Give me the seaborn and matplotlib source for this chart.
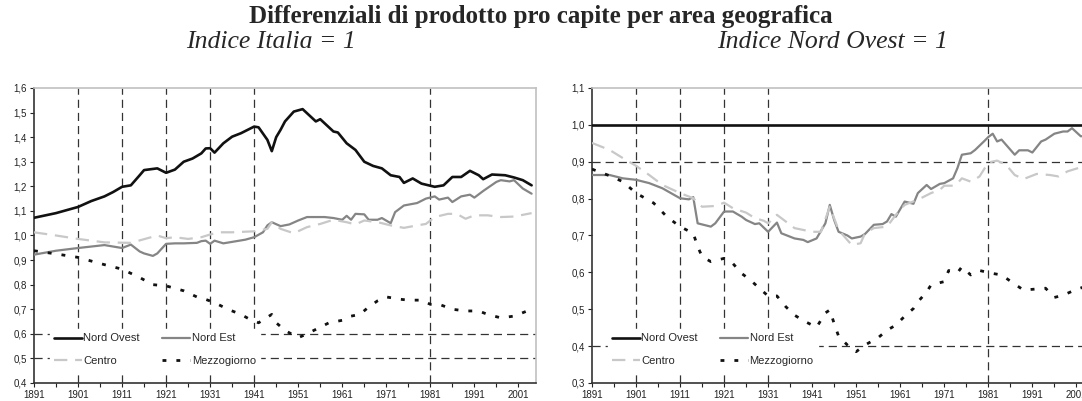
import seaborn as sns
import matplotlib.pyplot as plt
from matplotlib.ticker import FuncFormatter, MultipleLocator

# ---- data ----
# left panel: Italia = 1
noYearsL = [1891, 1896, 1901, 1904, 1907, 1909, 1911, 1913, 1915, 1916, 1919, 1921, 1923, 1925, 1927, 1929,
            1930, 1931, 1932, 1934, 1936, 1938, 1941, 1942, 1944, 1945, 1946, 1947, 1948, 1950, 1952, 1955,
            1956, 1959, 1960, 1962, 1964, 1966, 1968, 1970, 1972, 1974, 1975, 1977, 1979, 1982, 1984, 1986,
            1988, 1990, 1992, 1993, 1995, 1998, 2000, 2002, 2004]
noValsL = [1.072, 1.091, 1.116, 1.14, 1.159, 1.177, 1.198, 1.204, 1.245, 1.266, 1.273, 1.255, 1.268, 1.30, 1.313, 1.334,
           1.354, 1.355, 1.337, 1.375, 1.402, 1.416, 1.443, 1.44, 1.389, 1.343, 1.40, 1.43, 1.464, 1.504, 1.514, 1.464,
           1.473, 1.423, 1.419, 1.375, 1.348, 1.30, 1.283, 1.273, 1.245, 1.238, 1.214, 1.232, 1.211, 1.198, 1.204, 1.238,
           1.238, 1.263, 1.245, 1.229, 1.248, 1.245, 1.236, 1.225, 1.204]

neYearsL = [1891, 1896, 1901, 1907, 1911, 1913, 1915, 1916, 1918, 1919, 1921, 1923, 1925, 1928, 1929, 1930, 1931,
            1932, 1934, 1937, 1939, 1941, 1943, 1944, 1945, 1947, 1949, 1951, 1953, 1957, 1959, 1961, 1962, 1963,
            1964, 1966, 1967, 1969, 1970, 1972, 1973, 1975, 1978, 1980, 1982, 1983, 1985, 1986, 1988, 1990, 1991,
            1993, 1996, 1997, 1999, 2000, 2002, 2004]
neValsL = [0.922, 0.938, 0.949, 0.961, 0.949, 0.963, 0.935, 0.927, 0.917, 0.927, 0.966, 0.968, 0.968, 0.97, 0.977, 0.979, 0.966,
           0.979, 0.968, 0.977, 0.983, 0.993, 1.013, 1.041, 1.054, 1.038, 1.045, 1.061, 1.075, 1.075, 1.071, 1.064, 1.08, 1.064,
           1.088, 1.086, 1.064, 1.064, 1.071, 1.05, 1.095, 1.122, 1.132, 1.15, 1.159, 1.146, 1.154, 1.136, 1.159, 1.166, 1.154,
           1.181, 1.218, 1.225, 1.22, 1.225, 1.191, 1.17]

ceYearsL = [1891, 1896, 1901, 1907, 1913, 1919, 1921, 1923, 1926, 1929, 1931, 1933, 1936, 1941, 1944, 1945, 1947,
            1950, 1953, 1956, 1959, 1962, 1964, 1966, 1969, 1970, 1972, 1975, 1978, 1980, 1982, 1985, 1987, 1989,
            1991, 1994, 1997, 2000, 2004]
ceValsL = [1.013, 1.0, 0.986, 0.972, 0.970, 1.0, 0.989, 0.993, 0.986, 0.993, 1.004, 1.013, 1.013, 1.017, 1.027, 1.054, 1.027,
           1.009, 1.034, 1.047, 1.064, 1.054, 1.045, 1.061, 1.054, 1.05, 1.041, 1.031, 1.041, 1.047, 1.075, 1.088, 1.088, 1.068,
           1.082, 1.082, 1.075, 1.077, 1.091]

meYearsL = [1891, 1896, 1901, 1906, 1911, 1915, 1918, 1921, 1925, 1928, 1930, 1932, 1935, 1938, 1940, 1942, 1945,
            1946, 1948, 1951, 1953, 1955, 1958, 1961, 1963, 1965, 1967, 1969, 1971, 1974, 1976, 1979, 1981, 1983,
            1986, 1989, 1992, 1994, 1997, 2000, 2003]
meValsL = [0.938, 0.925, 0.911, 0.886, 0.863, 0.829, 0.80, 0.795, 0.775, 0.75, 0.74, 0.727, 0.70, 0.679, 0.659, 0.645, 0.679,
           0.645, 0.614, 0.584, 0.60, 0.618, 0.645, 0.655, 0.672, 0.679, 0.709, 0.734, 0.75, 0.741, 0.737, 0.737, 0.72, 0.72,
           0.70, 0.693, 0.693, 0.679, 0.665, 0.672, 0.693]

# right panel: Nord Ovest = 1
noYearsR = [1891, 2004]
noValsR = [1.0, 1.0]

neYearsR = [1891, 1895, 1898, 1901, 1904, 1907, 1911, 1913, 1914, 1915, 1918, 1919, 1921, 1923, 1925, 1926, 1928,
            1929, 1931, 1933, 1934, 1937, 1939, 1940, 1942, 1944, 1945, 1946, 1947, 1949, 1950, 1952, 1953, 1955,
            1957, 1958, 1959, 1960, 1962, 1964, 1965, 1967, 1968, 1970, 1971, 1973, 1974, 1975, 1977, 1978, 1980,
            1981, 1982, 1983, 1984, 1987, 1988, 1990, 1991, 1993, 1994, 1996, 1998, 1999, 2000, 2002, 2003, 2004]
neValsR = [0.864, 0.864, 0.855, 0.851, 0.842, 0.828, 0.801, 0.798, 0.804, 0.733, 0.724, 0.733, 0.765, 0.765, 0.751, 0.742, 0.731,
           0.733, 0.71, 0.735, 0.706, 0.692, 0.688, 0.682, 0.692, 0.733, 0.783, 0.742, 0.71, 0.70, 0.692, 0.697, 0.704, 0.729,
           0.731, 0.738, 0.758, 0.751, 0.792, 0.786, 0.815, 0.837, 0.826, 0.84, 0.842, 0.855, 0.883, 0.919, 0.923, 0.932, 0.955,
           0.967, 0.976, 0.955, 0.96, 0.919, 0.931, 0.931, 0.925, 0.955, 0.96, 0.976, 0.982, 0.982, 0.991, 0.969, 0.97, 0.972]

ceYearsR = [1891, 1895, 1898, 1901, 1904, 1907, 1911, 1914, 1916, 1919, 1921, 1923, 1926, 1928, 1930, 1931, 1933,
            1937, 1941, 1943, 1945, 1947, 1950, 1952, 1953, 1955, 1958, 1960, 1962, 1965, 1968, 1970, 1971, 1973,
            1974, 1975, 1977, 1979, 1981, 1983, 1985, 1987, 1989, 1992, 1995, 1997, 1999, 2002, 2004]
ceValsR = [0.951, 0.932, 0.91, 0.889, 0.864, 0.837, 0.815, 0.801, 0.778, 0.78, 0.789, 0.774, 0.762, 0.747, 0.74, 0.733, 0.756,
           0.72, 0.71, 0.71, 0.778, 0.715, 0.674, 0.679, 0.706, 0.72, 0.724, 0.756, 0.783, 0.797, 0.815, 0.824, 0.835, 0.835,
           0.842, 0.855, 0.846, 0.86, 0.898, 0.903, 0.892, 0.864, 0.853, 0.867, 0.864, 0.86, 0.874, 0.885, 0.89]

meYearsR = [1891, 1895, 1898, 1901, 1905, 1908, 1911, 1914, 1915, 1916, 1918, 1921, 1923, 1925, 1927, 1929, 1931,
            1933, 1935, 1937, 1939, 1942, 1944, 1945, 1946, 1947, 1949, 1951, 1953, 1956, 1958, 1960, 1962, 1964,
            1965, 1967, 1968, 1971, 1972, 1974, 1975, 1977, 1979, 1982, 1984, 1987, 1989, 1991, 1994, 1996, 1998,
            2001, 2004]
meValsR = [0.88, 0.862, 0.846, 0.815, 0.788, 0.751, 0.724, 0.706, 0.67, 0.643, 0.629, 0.638, 0.624, 0.597, 0.579, 0.557, 0.536,
           0.536, 0.507, 0.484, 0.469, 0.451, 0.49, 0.498, 0.461, 0.427, 0.403, 0.385, 0.403, 0.423, 0.443, 0.457, 0.481, 0.502,
           0.52, 0.547, 0.566, 0.575, 0.605, 0.599, 0.615, 0.593, 0.605, 0.597, 0.593, 0.568, 0.552, 0.554, 0.557, 0.532, 0.538,
           0.554, 0.565]

seriesNames = ['Nord Ovest', 'Nord Est', 'Centro', 'Mezzogiorno']

# ---- style ----
sns.set_style('white')
plt.rcParams['font.family'] = ['Liberation Sans', 'DejaVu Sans']

styles = {
    'Nord Ovest': dict(color='#111111', lw=1.9, linestyle='-'),
    'Nord Est': dict(color='#858585', lw=1.6, linestyle='-'),
    'Centro': dict(color='#c8c8c8', lw=1.6, linestyle=(0, (6, 3.5))),
    'Mezzogiorno': dict(color='#111111', lw=2.0, linestyle=(0, (1.4, 3.6))),
}
gridStyle = dict(color='#333333', lw=0.9, linestyle=(0, (6.5, 4)), zorder=1)

fig = plt.figure(figsize=(10.82, 4.01), dpi=100)
axL = fig.add_axes([0.0314, 0.0449, 0.464, 0.7357])
axR = fig.add_axes([0.5471, 0.0449, 0.464, 0.7357])

panels = [
    (axL, [(noYearsL, noValsL), (neYearsL, neValsL), (ceYearsL, ceValsL), (meYearsL, meValsL)],
     (0.4, 1.6), [1901, 1911, 1921, 1931, 1941, 1981], [0.6, 0.5]),
    (axR, [(noYearsR, noValsR), (neYearsR, neValsR), (ceYearsR, ceValsR), (meYearsR, meValsR)],
     (0.3, 1.1), [1901, 1911, 1921, 1931, 1981], [0.9, 0.4]),
]

commaFmt = FuncFormatter(lambda v, pos: f'{v:.1f}'.replace('.', ','))

for ax, data, ylim, vlines, hlines in panels:
    for x in vlines:
        ax.axvline(x, **gridStyle)
    for y in hlines:
        ax.axhline(y, **gridStyle)
    for name, (xs, ys) in zip(seriesNames, data):
        sns.lineplot(x=xs, y=ys, ax=ax, label=name, zorder=3, **styles[name])

    ax.set_xlim(1891, 2005)
    ax.set_ylim(*ylim)
    ax.set_xticks(list(range(1891, 2005, 10)))
    ax.set_xticks(list(range(1896, 2005, 10)), minor=True)
    ax.yaxis.set_major_locator(MultipleLocator(0.1))
    ax.yaxis.set_major_formatter(commaFmt)
    ax.tick_params(axis='both', which='both', direction='out', length=3, width=0.8,
                   labelsize=7, colors='#222222', pad=2, bottom=True, left=True)
    for side in ['left', 'bottom']:
        ax.spines[side].set_color('#333333')
        ax.spines[side].set_linewidth(1.2)
    for side in ['top', 'right']:
        ax.spines[side].set_color('#c0c0c0')
        ax.spines[side].set_linewidth(1.2)
    ax.set_xlabel('')
    ax.set_ylabel('')

    handles, labels = ax.get_legend_handles_labels()
    order = [0, 2, 1, 3]
    leg = ax.legend([handles[i] for i in order], [labels[i] for i in order], ncol=2,
                    loc='lower left', bbox_to_anchor=(0.02, 0.025), fontsize=8,
                    frameon=True, framealpha=1, facecolor='white', edgecolor='white',
                    fancybox=False, handlelength=2.5, handletextpad=0.15,
                    columnspacing=2.0, labelspacing=1.1, borderpad=0.4)
    leg.set_zorder(4)

fig.text(0.5, 0.958, 'Differenziali di prodotto pro capite per area geografica',
         ha='center', va='center', fontsize=18, fontweight='bold', family='Liberation Serif')
fig.text(0.25, 0.895, 'Indice Italia = 1', ha='center', va='center',
         fontsize=18.5, style='italic', family='Liberation Serif')
fig.text(0.769, 0.895, 'Indice Nord Ovest = 1', ha='center', va='center',
         fontsize=18.5, style='italic', family='Liberation Serif')

fig.savefig('out.png', dpi=100)
